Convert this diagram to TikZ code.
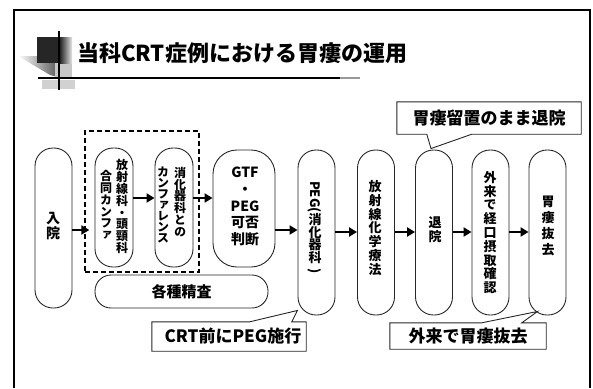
\documentclass[tikz,border=0pt]{standalone}
\usepackage{graphicx}
\usepackage{fontspec}
\setmainfont{Noto Sans CJK JP}
\newfontfamily\jpv{Noto Sans CJK JP}[RawFeature=+vert]
\usetikzlibrary{arrows.meta,calc}
\newcommand\fsz[2]{\fontsize{#1}{#2}\selectfont}
\begin{document}
\begin{tikzpicture}[x=1pt,y=-1pt,
  pill/.style={draw=black!85,line width=0.9pt,rounded corners=18pt,inner sep=0pt},
  vt/.style={inner sep=0pt,align=center,font=\jpv\bfseries\fsz{13}{13.8}},
  vts/.style={inner sep=0pt,align=center,font=\jpv\bfseries\fsz{12}{11.9}},
  arr/.style={line width=2.4pt,-{Triangle[length=8pt,width=9pt]}},
  callout/.style={draw=black!85,line width=0.9pt},
  ctext/.style={inner sep=0pt,font=\bfseries\fsz{17}{19}},
]
\useasboundingbox (0,0) rectangle (593,388);
% frame
\draw[line width=2pt] (14,388) -- (14,10) -- (590,10) -- (590,388);
% title icon
\shade[left color=white,right color=black!65] (18,56) -- (58,56) -- (58,77) -- (50,75) -- cycle;
\fill[black!22] (55,62) rectangle (72,77);
\fill[black!18] (42,80) rectangle (75,89);
\fill[black!85] (37,37) rectangle (60,63);
\shade[left color=black!85,right color=black!10] (60,37) rectangle (72,63);
\draw[line width=1.5pt] (59,31) -- (59,90);
\draw[line width=2pt] (38,78) -- (340,78);
\draw[line width=1.5pt,black!40] (340,78) -- (360,78);
\node[anchor=west,inner sep=0pt,font=\bfseries\fsz{22}{24}] (title) at (77,53) {当科CRT症例における胃瘻の運用};

% dashed group
\node[draw,line width=1.3pt,dash pattern=on 5pt off 3pt,minimum width=114pt,minimum height=141pt,inner sep=0pt] (dbox) at (142,201.5) {};

% pills
\node[pill,minimum width=37pt,minimum height=160pt] (nyuin) at (53.5,228) {};
\node[pill,minimum width=38pt,minimum height=119pt] (p1) at (114,207.5) {};
\node[pill,minimum width=38pt,minimum height=119pt] (p2) at (174,207.5) {};
\node[pill,rounded corners=24pt,minimum width=62pt,minimum height=117pt] (gtf) at (244,208.5) {};
\node[pill,minimum width=37pt,minimum height=165pt] (peg) at (316.5,232.5) {};
\node[pill,minimum width=37pt,minimum height=165pt] (chem) at (376,232.5) {};
\node[pill,minimum width=37pt,minimum height=165pt] (taiin) at (434,232.5) {};
\node[pill,minimum width=37pt,minimum height=165pt] (gairai) at (490.5,232.5) {};
\node[pill,minimum width=37pt,minimum height=165pt] (bakkyo) at (547.5,232.5) {};
\node[pill,rounded corners=16pt,minimum width=173pt,minimum height=33pt,font=\bfseries\fsz{15}{17}] (seisa) at (181.5,291.5) {各種精査};

% pill texts
\node[vt,font=\jpv\bfseries\fsz{14}{15}] (tnyuin) at (53,226) {入\\院};
\node[vts] (tp1r) at (122,206.5) {放\\射\\線\\科\\・\\頭\\頸\\科};
\node[vts] (tp1l) at (106,205) {合\\同\\カ\\ン\\フ\\ァ};
\node[vts] (tp2r) at (180,202) {消\\化\\器\\科\\と\\の};
\node[vts,font=\jpv\bfseries\fsz{12}{11}] (tp2l) at (163,205) {カ\\ン\\フ\\ァ\\レ\\ン\\ス};
\node[inner sep=0pt,align=center,font=\bfseries\fsz{14}{16.7}] (tgtf) at (245,206.5) {GTF\\・\\PEG\\可否\\判断};
\node[vt,font=\jpv\bfseries\fsz{13}{12.5}] (tpeg) at (315,228) {\rotatebox[origin=c]{-90}{PEG(}\\消\\化\\器\\科\\\rotatebox[origin=c]{-90}{)}};
\node[vt] (tchem) at (375,228) {放\\射\\線\\化\\学\\療\\法};
\node[vt,font=\jpv\bfseries\fsz{13}{14}] (ttaiin) at (435,230) {退\\院};
\node[vt] (tgairai) at (490,232.5) {外\\来\\で\\経\\口\\摂\\取\\確\\認};
\node[vt,font=\jpv\bfseries\fsz{13}{16}] (tbakkyo) at (548,226) {胃\\瘻\\抜\\去};

% arrows
\draw[arr,shorten >=-5pt] (nyuin.east |- 0,230) -- (dbox.west |- 0,230);
\draw[arr] (p1.east |- 0,198) -- (p2.west |- 0,198);
\draw[arr] (p2.east |- 0,198) -- (gtf.west |- 0,198);
\draw[arr] (gtf.east |- 0,230) -- (peg.west |- 0,230);
\draw[arr] (peg.east |- 0,232) -- (chem.west |- 0,232);
\draw[arr] (chem.east |- 0,232) -- (taiin.west |- 0,232);
\draw[arr] (taiin.east |- 0,232) -- (gairai.west |- 0,232);
\draw[arr] (gairai.east |- 0,232) -- (bakkyo.west |- 0,232);

% callouts
\node[ctext,minimum width=184pt,minimum height=32pt] (c1) at (489,118) {胃瘻留置のまま退院};
\draw[callout] (c1.north west) -- (c1.north east) -- (c1.south east) -- ($(c1.south west)+(75,0)$) -- ($(taiin.north)+(-3,-1)$) -- ($(c1.south west)+(30,0)$) -- (c1.south west) -- cycle;

\node[ctext,minimum width=154pt,minimum height=29pt] (c2) at (229,336.5) {\hspace{8pt}CRT前にPEG施行};
\draw[callout] (c2.south west) -- (c2.north west) -- ($(c2.north west)+(98,0)$) -- ($(peg.south)+(-19,-5)$) -- ($(c2.north west)+(140,0)$) -- (c2.north east) -- (c2.south east) -- cycle;

\node[ctext,minimum width=156pt,minimum height=26pt] (c3) at (468,336) {外来で胃瘻抜去};
\draw[callout] (c3.south west) -- (c3.north west) -- ($(c3.north west)+(92,0)$) -- ($(bakkyo.south)+(-10,-4)$) -- ($(c3.north west)+(132,0)$) -- (c3.north east) -- (c3.south east) -- cycle;
\end{tikzpicture}
\end{document}
